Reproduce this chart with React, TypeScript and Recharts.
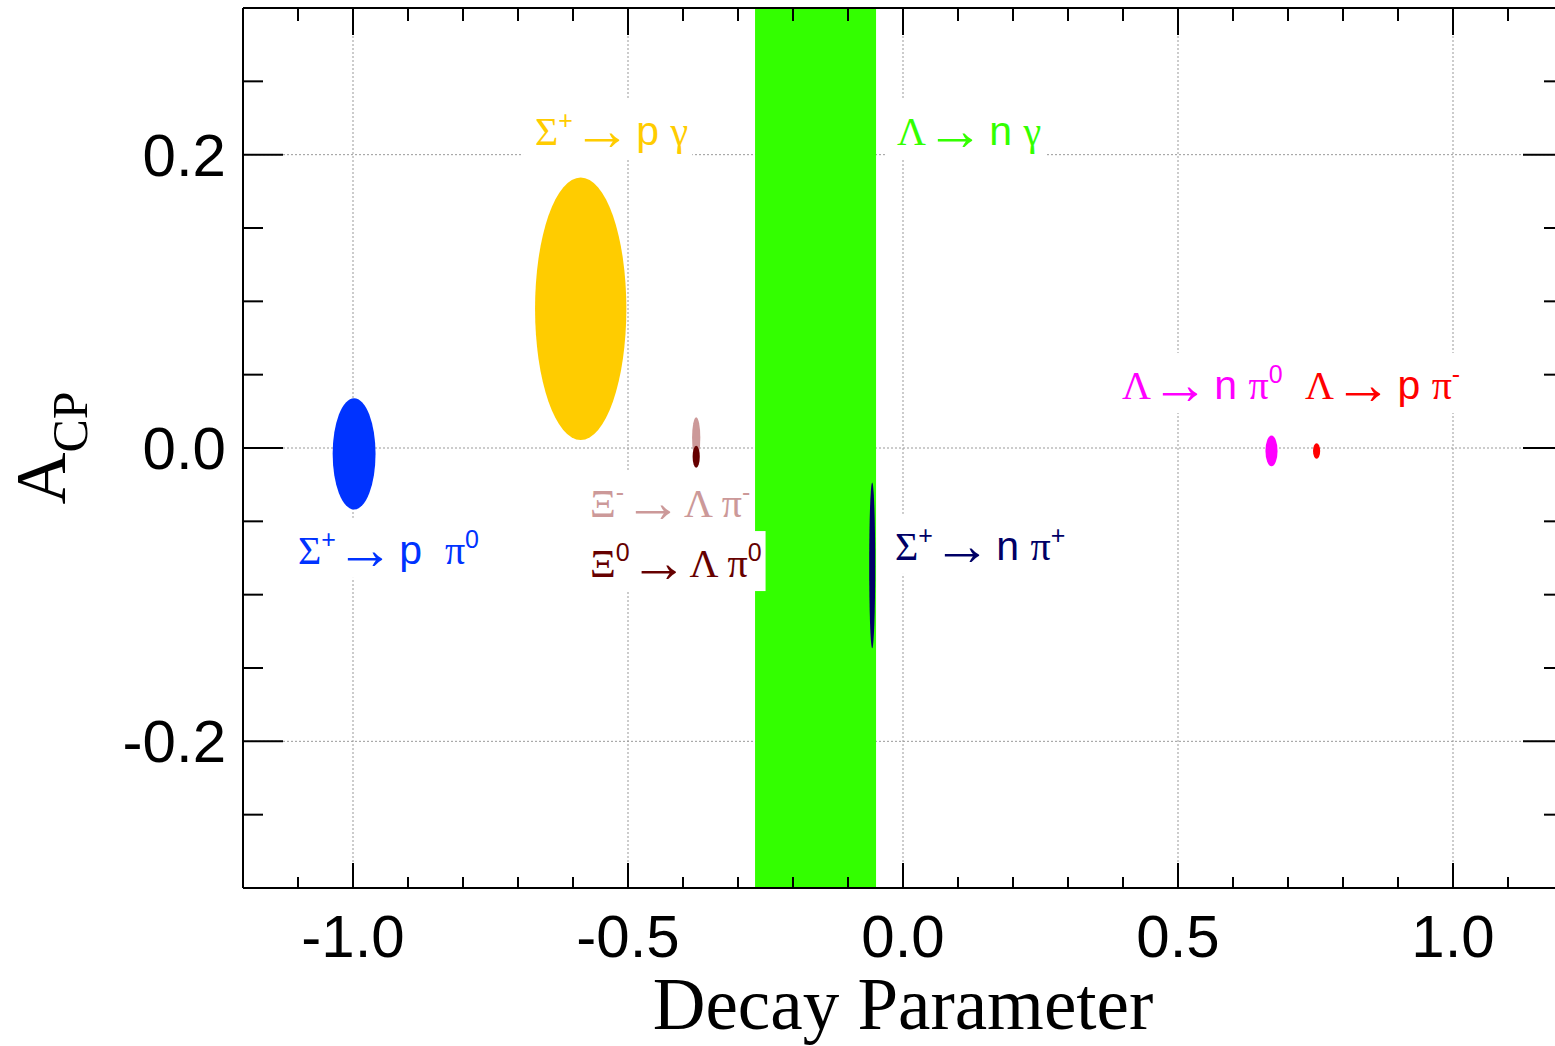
import React, { useLayoutEffect, useRef, useState } from "react";
import {
  ScatterChart,
  Scatter,
  XAxis,
  YAxis,
  CartesianGrid,
  ReferenceArea,
  ReferenceDot,
} from "recharts";

const SANS = "'Liberation Sans', Arial, Helvetica, sans-serif";
const SERIF = "'Liberation Serif', 'Times New Roman', serif";

// axis ticks
const xMajorTicks = [-1.0, -0.5, 0.0, 0.5, 1.0];
const xMinorTicks = [-1.1, -0.9, -0.8, -0.7, -0.6, -0.4, -0.3, -0.2, -0.1, 0.1, 0.2, 0.3, 0.4, 0.6, 0.7, 0.8, 0.9, 1.1];
const yMajorTicks = [-0.2, 0.0, 0.2];
const yMinorTicks = [-0.25, -0.15, -0.1, -0.05, 0.05, 0.1, 0.15, 0.25];

// decay channels: centre and half-size of each error ellipse
const decays = ["Σ+→pπ0", "Σ+→pγ", "Ξ-→Λπ-", "Ξ0→Λπ0", "Σ+→nπ+", "Λ→nπ0", "Λ→pπ-"];
const alphaCenter = [-0.998, -0.586, -0.376, -0.376, -0.056, 0.67, 0.752];
const alphaHalf = [0.039, 0.083, 0.0075, 0.0065, 0.0055, 0.011, 0.0065];
const acpCenter = [-0.004, 0.095, 0.007, -0.006, -0.08, -0.002, -0.002];
const acpHalf = [0.038, 0.0895, 0.014, 0.0075, 0.0565, 0.0105, 0.0053];
const decayColors = ["#0033ff", "#ffcc00", "#cc9999", "#660000", "#000066", "#ff00ff", "#ff0000"];

// Λ→nγ only constrains the decay parameter: vertical band
const bandAlpha = [-0.269, -0.049];
const bandColor = "#33ff00";

// text labels (parts: g = greek/serif, a = arrow, s = sans, u = superscript)
type Part = { t: string; k: "g" | "a" | "s" | "u" };
const G = (t: string): Part => ({ t, k: "g" });
const A = (): Part => ({ t: "→", k: "a" });
const S = (t: string): Part => ({ t, k: "s" });
const U = (t: string): Part => ({ t, k: "u" });

const labelParts: Part[][] = [
  [G("Σ"), U("+"), A(), S(" p "), G("γ")],
  [G("Λ"), A(), S(" n "), G("γ")],
  [G("Σ"), U("+"), A(), S(" p  "), G("π"), U("0")],
  [G("Ξ"), U("-"), A(), G(" Λ π"), U("-")],
  [G("Ξ"), U("0"), A(), G(" Λ π"), U("0")],
  [G("Σ"), U("+"), A(), S(" n "), G("π"), U("+")],
  [G("Λ"), A(), S(" n "), G("π"), U("0")],
  [G("Λ"), A(), S(" p "), G("π"), U("-")],
];
const labelAlpha = [-0.669, -0.011, -1.1, -0.569, -0.569, -0.0145, 0.398, 0.731];
const labelAcp = [0.2065, 0.2065, -0.079, -0.047, -0.088, -0.0763, 0.0334, 0.0334];
const labelColors = ["#ffcc00", "#33ff00", "#0033ff", "#cc9999", "#660000", "#000066", "#ff00ff", "#ff0000"];

const centers = decays.map((name, i) => ({ name, x: alphaCenter[i], y: acpCenter[i] }));

const axisStroke = { stroke: "#000", strokeWidth: 2 };

// tick marks are drawn inward from the frame, labels outside
function BottomTick(props: any) {
  const { x, y, payload, len, label } = props;
  return (
    <g>
      <line x1={x} x2={x} y1={y} y2={y - len} stroke="#000" strokeWidth={2} />
      {label && (
        <text x={x} y={y + 69} textAnchor="middle" fontFamily={SANS} fontSize={60} fill="#000">
          {Number(payload.value).toFixed(1)}
        </text>
      )}
    </g>
  );
}

function TopTick(props: any) {
  const { x, y, len } = props;
  return <line x1={x} x2={x} y1={y} y2={y + len} stroke="#000" strokeWidth={2} />;
}

function LeftTick(props: any) {
  const { x, y, payload, len, label } = props;
  return (
    <g>
      <line x1={x} x2={x + len} y1={y} y2={y} stroke="#000" strokeWidth={2} />
      {label && (
        <text x={x - 17} y={y + 21} textAnchor="end" fontFamily={SANS} fontSize={60} fill="#000">
          {Number(payload.value).toFixed(1)}
        </text>
      )}
    </g>
  );
}

function RightTick(props: any) {
  const { x, y, len } = props;
  return <line x1={x} x2={x - len} y1={y} y2={y} stroke="#000" strokeWidth={2} />;
}

function XTitle(props: any) {
  const vb = props.viewBox;
  return (
    <text x={vb.x + vb.width / 2} y={vb.y + 141} textAnchor="middle" fontFamily={SERIF} fontSize={73} fill="#000">
      Decay Parameter
    </text>
  );
}

function YTitle(props: any) {
  const vb = props.viewBox;
  const cx = vb.x + vb.width - 178;
  const cy = vb.y + vb.height / 2;
  return (
    <text transform={`translate(${cx},${cy}) rotate(-90)`} textAnchor="middle" fontFamily={SERIF} fill="#000">
      <tspan fontSize={72}>A</tspan>
      <tspan fontSize={50} dy={22}>CP</tspan>
    </text>
  );
}

function EllipseShape(props: any) {
  const { x, y, width, height, fill } = props;
  return (
    <ellipse
      cx={x + width / 2}
      cy={y + height / 2}
      rx={Math.abs(width) / 2}
      ry={Math.abs(height) / 2}
      fill={fill}
      stroke="none"
    />
  );
}

const partShift = { g: 0, s: 0, u: -16, a: 5 };
const partSize = { g: 40, s: 41, u: 25, a: 58 };

function DecayLabel({ cx, cy, parts, color }: { cx: number; cy: number; parts: Part[]; color: string }) {
  const ref = useRef<SVGTextElement>(null);
  const [w, setW] = useState(0);
  useLayoutEffect(() => {
    if (ref.current) setW(ref.current.getBBox().width);
  }, [cx, cy]);

  let level = 0;
  const spans = parts.map((p, i) => {
    const target = partShift[p.k];
    const dy = target - level;
    level = target;
    const isArrow = p.k === "a";
    return (
      <tspan
        key={i}
        dy={dy || undefined}
        letterSpacing={isArrow ? -6 : undefined}
        fontSize={partSize[p.k]}
        fontFamily={p.k === "s" || p.k === "u" ? SANS : SERIF}
      >
        {p.t}
      </tspan>
    );
  });
  return (
    <g>
      {w > 0 && <rect x={cx - 12} y={cy - 46} width={w + 16} height={60} fill="#fff" />}
      <text ref={ref} x={cx} y={cy} fill={color} style={{ whiteSpace: "pre" }}>
        {spans}
      </text>
    </g>
  );
}

export default function App() {
  return (
    <div
      style={{
        position: "absolute",
        left: 0,
        top: 0,
        width: 1555,
        height: 1046,
        overflow: "hidden",
        background: "#fff",
      }}
    >
      <ScatterChart width={1600} height={1046} margin={{ top: 6, right: 35, bottom: 156, left: 241 }}>
        <CartesianGrid stroke="#999" strokeDasharray="2 2" strokeWidth={1} />

        {/* bottom axis, major + minor */}
        <XAxis
          xAxisId={0}
          type="number"
          dataKey="x"
          domain={[-1.2, 1.2]}
          allowDataOverflow
          ticks={xMajorTicks}
          interval={0}
          height={1}
          tickSize={0}
          tickMargin={0}
          axisLine={axisStroke}
          tickLine={false}
          tick={<BottomTick len={25} label />}
          label={<XTitle />}
        />
        <XAxis
          xAxisId="xminor"
          type="number"
          dataKey="x"
          domain={[-1.2, 1.2]}
          allowDataOverflow
          ticks={xMinorTicks}
          interval={0}
          height={1}
          tickSize={0}
          tickMargin={0}
          axisLine={false}
          tickLine={false}
          tick={<BottomTick len={12} />}
        />
        {/* top axis */}
        <XAxis
          xAxisId="xtop"
          orientation="top"
          type="number"
          dataKey="x"
          domain={[-1.2, 1.2]}
          allowDataOverflow
          ticks={xMajorTicks}
          interval={0}
          height={1}
          tickSize={0}
          tickMargin={0}
          axisLine={axisStroke}
          tickLine={false}
          tick={<TopTick len={27} />}
        />
        <XAxis
          xAxisId="xtopminor"
          orientation="top"
          type="number"
          dataKey="x"
          domain={[-1.2, 1.2]}
          allowDataOverflow
          ticks={xMinorTicks}
          interval={0}
          height={1}
          tickSize={0}
          tickMargin={0}
          axisLine={false}
          tickLine={false}
          tick={<TopTick len={14} />}
        />

        {/* left axis */}
        <YAxis
          yAxisId={0}
          type="number"
          dataKey="y"
          domain={[-0.3, 0.3]}
          allowDataOverflow
          ticks={yMajorTicks}
          interval={0}
          width={1}
          tickSize={0}
          tickMargin={0}
          axisLine={axisStroke}
          tickLine={false}
          tick={<LeftTick len={40} label />}
          label={<YTitle />}
        />
        <YAxis
          yAxisId="yminor"
          type="number"
          dataKey="y"
          domain={[-0.3, 0.3]}
          allowDataOverflow
          ticks={yMinorTicks}
          interval={0}
          width={1}
          tickSize={0}
          tickMargin={0}
          axisLine={false}
          tickLine={false}
          tick={<LeftTick len={21} />}
        />
        {/* right axis */}
        <YAxis
          yAxisId="yright"
          orientation="right"
          type="number"
          dataKey="y"
          domain={[-0.3, 0.3]}
          allowDataOverflow
          ticks={yMajorTicks}
          interval={0}
          width={1}
          tickSize={0}
          tickMargin={0}
          axisLine={axisStroke}
          tickLine={false}
          tick={<RightTick len={40} />}
        />
        <YAxis
          yAxisId="yrightminor"
          orientation="right"
          type="number"
          dataKey="y"
          domain={[-0.3, 0.3]}
          allowDataOverflow
          ticks={yMinorTicks}
          interval={0}
          width={1}
          tickSize={0}
          tickMargin={0}
          axisLine={false}
          tickLine={false}
          tick={<RightTick len={20} />}
        />

        {/* channel labels (white boxes hide the grid behind them) */}
        {labelParts.map((parts, i) => (
          <ReferenceDot
            key={i}
            x={labelAlpha[i]}
            y={labelAcp[i]}
            r={1}
            shape={(p: any) => <DecayLabel cx={p.cx} cy={p.cy} parts={parts} color={labelColors[i]} />}
          />
        ))}

        {/* Λ→nγ band */}
        <ReferenceArea
          x1={bandAlpha[0]}
          x2={bandAlpha[1]}
          y1={-0.3}
          y2={0.3}
          fill={bandColor}
          fillOpacity={1}
          stroke="none"
        />

        {/* error ellipses */}
        {decays.map((d, i) => (
          <ReferenceArea
            key={d}
            x1={alphaCenter[i] - alphaHalf[i]}
            x2={alphaCenter[i] + alphaHalf[i]}
            y1={acpCenter[i] - acpHalf[i]}
            y2={acpCenter[i] + acpHalf[i]}
            fill={decayColors[i]}
            fillOpacity={1}
            shape={<EllipseShape />}
          />
        ))}

        {/* invisible centre points, one per axis pair so every frame axis is active */}
        <Scatter data={centers} isAnimationActive={false} shape={() => <g />} />
        <Scatter data={centers} xAxisId="xminor" yAxisId="yminor" isAnimationActive={false} shape={() => <g />} />
        <Scatter data={centers} xAxisId="xtop" yAxisId="yright" isAnimationActive={false} shape={() => <g />} />
        <Scatter data={centers} xAxisId="xtopminor" yAxisId="yrightminor" isAnimationActive={false} shape={() => <g />} />
      </ScatterChart>
    </div>
  );
}
